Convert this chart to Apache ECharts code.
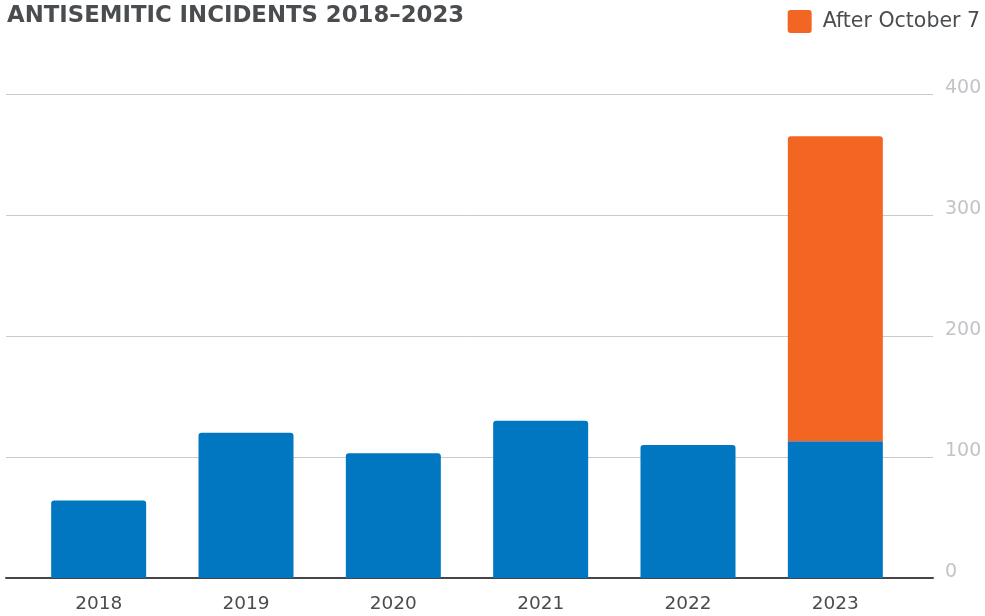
<!DOCTYPE html>
<html>
<head>
<meta charset="utf-8">
<script src="https://cdn.jsdelivr.net/npm/echarts@6/dist/echarts.min.js"></script>
<style>html,body{margin:0;padding:0;background:#fff;}#c{width:985px;height:616px;}</style>
</head>
<body>
<div id="c"></div>
<script>
const categories = ['2018', '2019', '2020', '2021', '2022', '2023'];
const beforeValues = [64, 120, 103, 130, 110, 113];
const afterValues = [null, null, null, null, null, 252];
const yTicks = [0, 100, 200, 300, 400];
const titleText = 'ANTISEMITIC INCIDENTS 2018\u20132023';
const afterName = 'After October 7';

const chart = echarts.init(document.getElementById('c'));
const blue = '#0077c0', orange = '#f26522';
chart.setOption({
  animation: false,
  title: {
    text: titleText, left: 2, top: 0,
    textStyle: { fontFamily: 'DejaVu Sans', fontWeight: 'bold', fontSize: 22.8, color: '#4a4d50' }
  },
  legend: {
    data: [afterName], right: 0, top: 5,
    icon: 'path://M3,0 H21 Q24,0 24,3 V20 Q24,23 21,23 H3 Q0,23 0,20 V3 Q0,0 3,0 Z',
    itemWidth: 24, itemHeight: 23, itemGap: 8,
    textStyle: { fontFamily: 'DejaVu Sans', fontSize: 20.5, color: '#4a4d50', padding: [0, 0, 0, 6] }
  },
  grid: [
    { left: 6, right: 52, top: 94, bottom: 38 },
    { left: 25, right: 76, top: 94, bottom: 38 }
  ],
  xAxis: [
    { type: 'category', gridIndex: 0, data: categories, axisLabel: { show: false }, axisTick: { show: false },
      axisLine: { lineStyle: { color: '#444649', width: 2 } } },
    { type: 'category', gridIndex: 1, data: categories, axisTick: { show: false }, axisLine: { show: false },
      axisLabel: { fontFamily: 'DejaVu Sans', fontSize: 18.5, color: '#4a4d50', margin: 17 } }
  ],
  yAxis: [
    { type: 'value', gridIndex: 0, position: 'right', min: yTicks[0], max: yTicks[yTicks.length - 1], interval: 100,
      axisLine: { show: false }, axisTick: { show: false },
      splitLine: { lineStyle: { color: '#c9c9ce', width: 1 } },
      axisLabel: { fontFamily: 'DejaVu Sans', fontSize: 19, color: '#c3c3c8', margin: 12, verticalAlign: 'bottom', lineHeight: 12 } },
    { type: 'value', gridIndex: 1, min: yTicks[0], max: yTicks[yTicks.length - 1], show: false, splitLine: { show: false } }
  ],
  series: [
    { name: 'Before October 7', type: 'bar', stack: 'a', xAxisIndex: 1, yAxisIndex: 1, barWidth: 95,
      data: beforeValues.map((v, i) => ({ value: v, itemStyle: { borderRadius: afterValues[i] ? 0 : [3, 3, 0, 0] } })),
      itemStyle: { color: blue } },
    { name: afterName, type: 'bar', stack: 'a', xAxisIndex: 1, yAxisIndex: 1, barWidth: 95,
      data: afterValues, itemStyle: { color: orange, borderRadius: [3, 3, 0, 0] } }
  ]
});
</script>
</body>
</html>
